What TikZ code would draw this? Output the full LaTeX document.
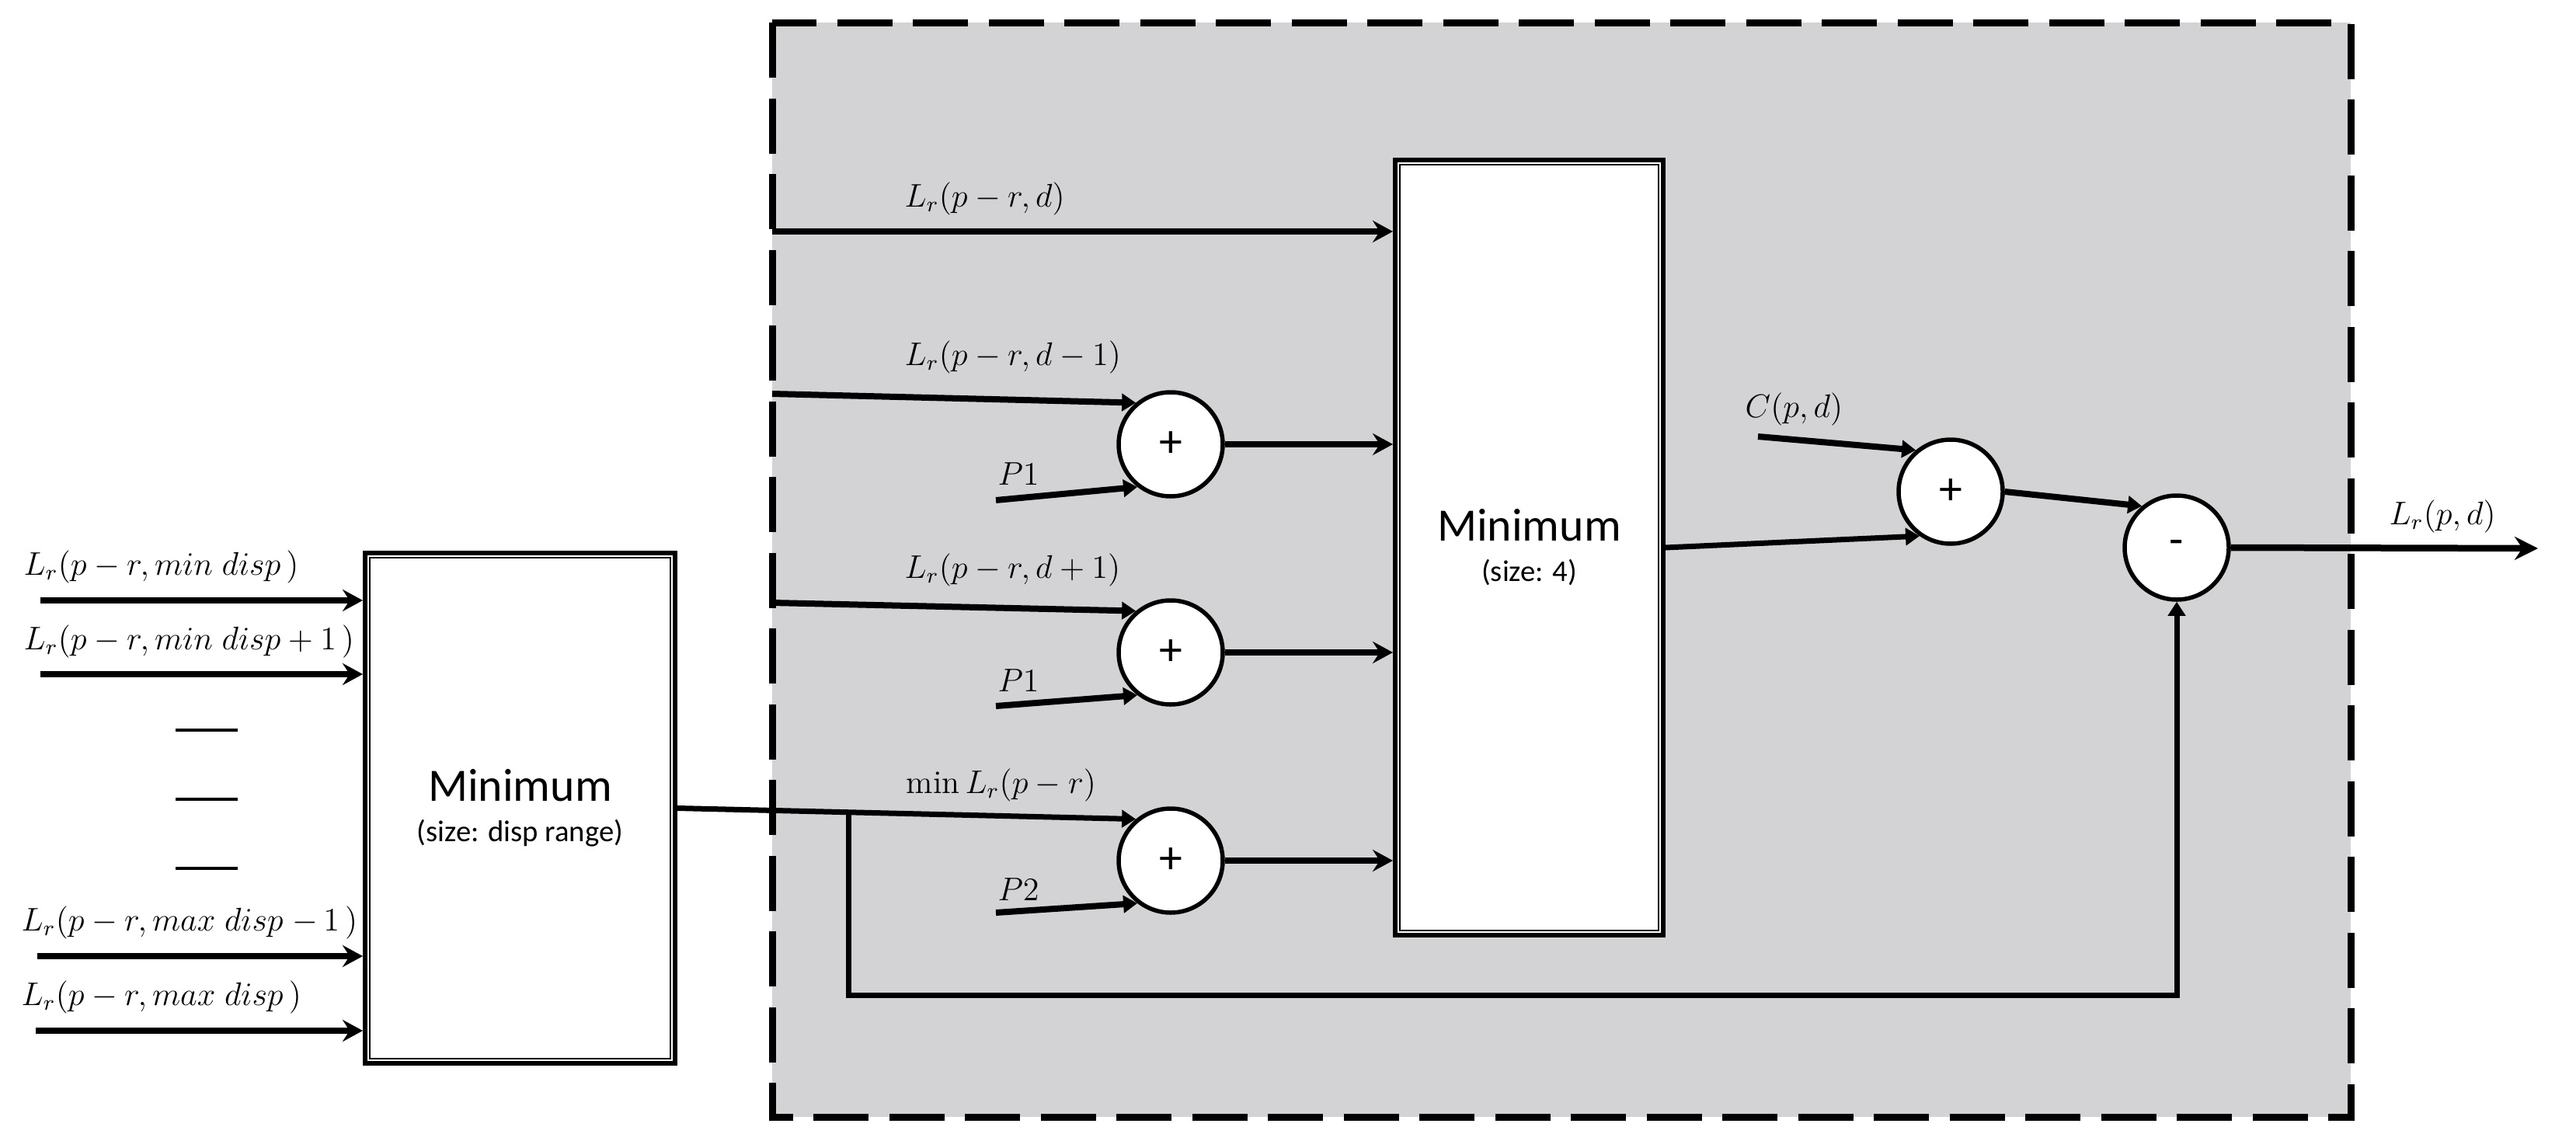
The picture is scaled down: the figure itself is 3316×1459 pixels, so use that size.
\documentclass[tikz,border=0pt]{standalone}
\usepackage{fontspec}
\newfontfamily\calib{Carlito}
\usetikzlibrary{arrows.meta,calc}
\definecolor{panel}{RGB}{211,211,213}
\begin{document}
\begin{tikzpicture}[x=0.1mm,y=-0.1mm,
  mlabel/.style={font=\fontsize{12}{14}\selectfont, inner sep=0pt},
  minbox/.style={draw, line width=0.6mm, fill=white, inner sep=0pt, align=center,
    font=\calib\fontsize{11}{14.8}\selectfont},
  sumnode/.style={circle, draw, line width=0.55mm, fill=white, minimum size=13.4mm,
    inner sep=0pt, font=\calib\fontsize{17}{20}\selectfont},
  arr/.style={line width=0.85mm, -{Stealth[length=2.6mm,width=2.8mm,inset=0.9mm]}},
  sarr/.style={line width=0.8mm, -{Triangle[length=1.8mm,width=2.2mm]}},
  wire/.style={line width=0.7mm},
  dots/.style={line width=0.45mm},
  inner/.style={line width=0.2mm}
]
\useasboundingbox (0,0) rectangle (3316,1459);

% dashed panel
\draw[fill=panel, line width=0.9mm, dash pattern=on 7.1mm off 2.65mm] (994,29) rectangle (3026,1438);

% boxes
\node[minbox, minimum width=39.9mm, minimum height=65.7mm] (lbox) at (669.5,1040.5)
  {{\fontsize{17}{14.8}\selectfont Minimum}\\(size: disp range)};
\draw[inner] ($(lbox.north west)+(9,9)$) rectangle ($(lbox.south east)+(-9,-9)$);
\node[minbox, minimum width=34.5mm, minimum height=99.8mm] (rbox) at (1968.5,705)
  {{\fontsize{17}{14.8}\selectfont Minimum}\\(size: 4)};
\draw[inner] ($(rbox.north west)+(9,9)$) rectangle ($(rbox.south east)+(-9,-9)$);

% sum nodes
\node[sumnode] (c1) at (1507,572) {+};
\node[sumnode] (c2) at (1507,840) {+};
\node[sumnode] (c3) at (1507,1108) {+};
\node[sumnode] (c4) at (2511,633) {+};
\node[sumnode] (c5) at (2802,705) {-};

% free ends
\coordinate (in1) at (52,773);
\coordinate (in2) at (52,868);
\coordinate (in3) at (48,1231);
\coordinate (in4) at (46,1327);
\coordinate (sd) at (994,298);
\coordinate (sdm) at (994,507);
\coordinate (sdp) at (994,776);
\coordinate (sp1a) at (1282,644);
\coordinate (sp1b) at (1282,909);
\coordinate (sp2) at (1282,1175);
\coordinate (sc) at (2263,562);
\coordinate (oend) at (3267,706);
\coordinate (fb) at (1091,1281);

% left inputs
\draw[arr] (in1) -- (in1 -| lbox.west);
\draw[arr] (in2) -- (in2 -| lbox.west);
\draw[arr] (in3) -- (in3 -| lbox.west);
\draw[arr] (in4) -- (in4 -| lbox.west);
\node[mlabel, anchor=west] (l1) at (30,730) {$L_r(p-r, min\;disp\,)$};
\node[mlabel, anchor=west] (l2) at (30,826) {$L_r(p-r, min\;disp+1\,)$};
\node[mlabel, anchor=west] (l3) at (27,1188) {$L_r(p-r, max\;disp\;{-}\,1\,)$};
\node[mlabel, anchor=west] (l4) at (27,1284) {$L_r(p-r, max\;disp\,)$};
\draw[dots] (226,940) -- (306,940);
\draw[dots] (226,1029) -- (306,1029);
\draw[dots] (226,1118) -- (306,1118);

% inputs of right box
\draw[arr] (sd) -- (sd -| rbox.west);
\node[mlabel, anchor=west] (ld) at (1164,256) {$L_r(p-r,d)$};
\draw[sarr] (sdm) -- (c1.130);
\node[mlabel, anchor=west] (ldm) at (1164,460) {$L_r(p-r,d-1)$};
\draw[sarr] (sp1a) -- (c1.232);
\node[mlabel] (lp1a) at (1311,610) {$P1$};
\draw[sarr] (sdp) -- (c2.130);
\node[mlabel, anchor=west] (ldp) at (1164,734) {$L_r(p-r,d+1)$};
\draw[sarr] (sp1b) -- (c2.232);
\node[mlabel] (lp1b) at (1311,876) {$P1$};
\draw[sarr] (sp2) -- (c3.232);
\node[mlabel] (lp2) at (1311,1145) {$P2$};

% min line and feedback
\coordinate (jn) at ($(lbox.east)!0.373!(c3.130)$);
\draw[wire, -{Triangle[length=1.8mm,width=2.2mm]}] (lbox.east) -- (c3.130);
\node[mlabel, anchor=west] (lmin) at (1166,1011) {$\min L_r(p-r)$};
\draw[wire, -{Triangle[length=1.8mm,width=2.2mm]}] (jn) -- (jn |- fb) -| (c5.south);

% sum outputs to right box
\draw[arr] (c1.east) -- (c1.east -| rbox.west);
\draw[arr] (c2.east) -- (c2.east -| rbox.west);
\draw[arr] (c3.east) -- (c3.east -| rbox.west);

% right part
\draw[wire, -{Triangle[length=1.8mm,width=2.2mm]}] (rbox.east) -- (c4.235);
\draw[sarr] (sc) -- (c4.130);
\node[mlabel, anchor=west] (lc) at (2246,527) {$C(p,d)$};
\draw[sarr] (c4.east) -- (c5.130);
\draw[line width=0.85mm, -{Stealth[length=3mm,width=3mm,inset=1mm]}] (c5.east) -- (oend);
\node[mlabel, anchor=west] (lout) at (3075,665) {$L_r(p,d)$};
\end{tikzpicture}
\end{document}
